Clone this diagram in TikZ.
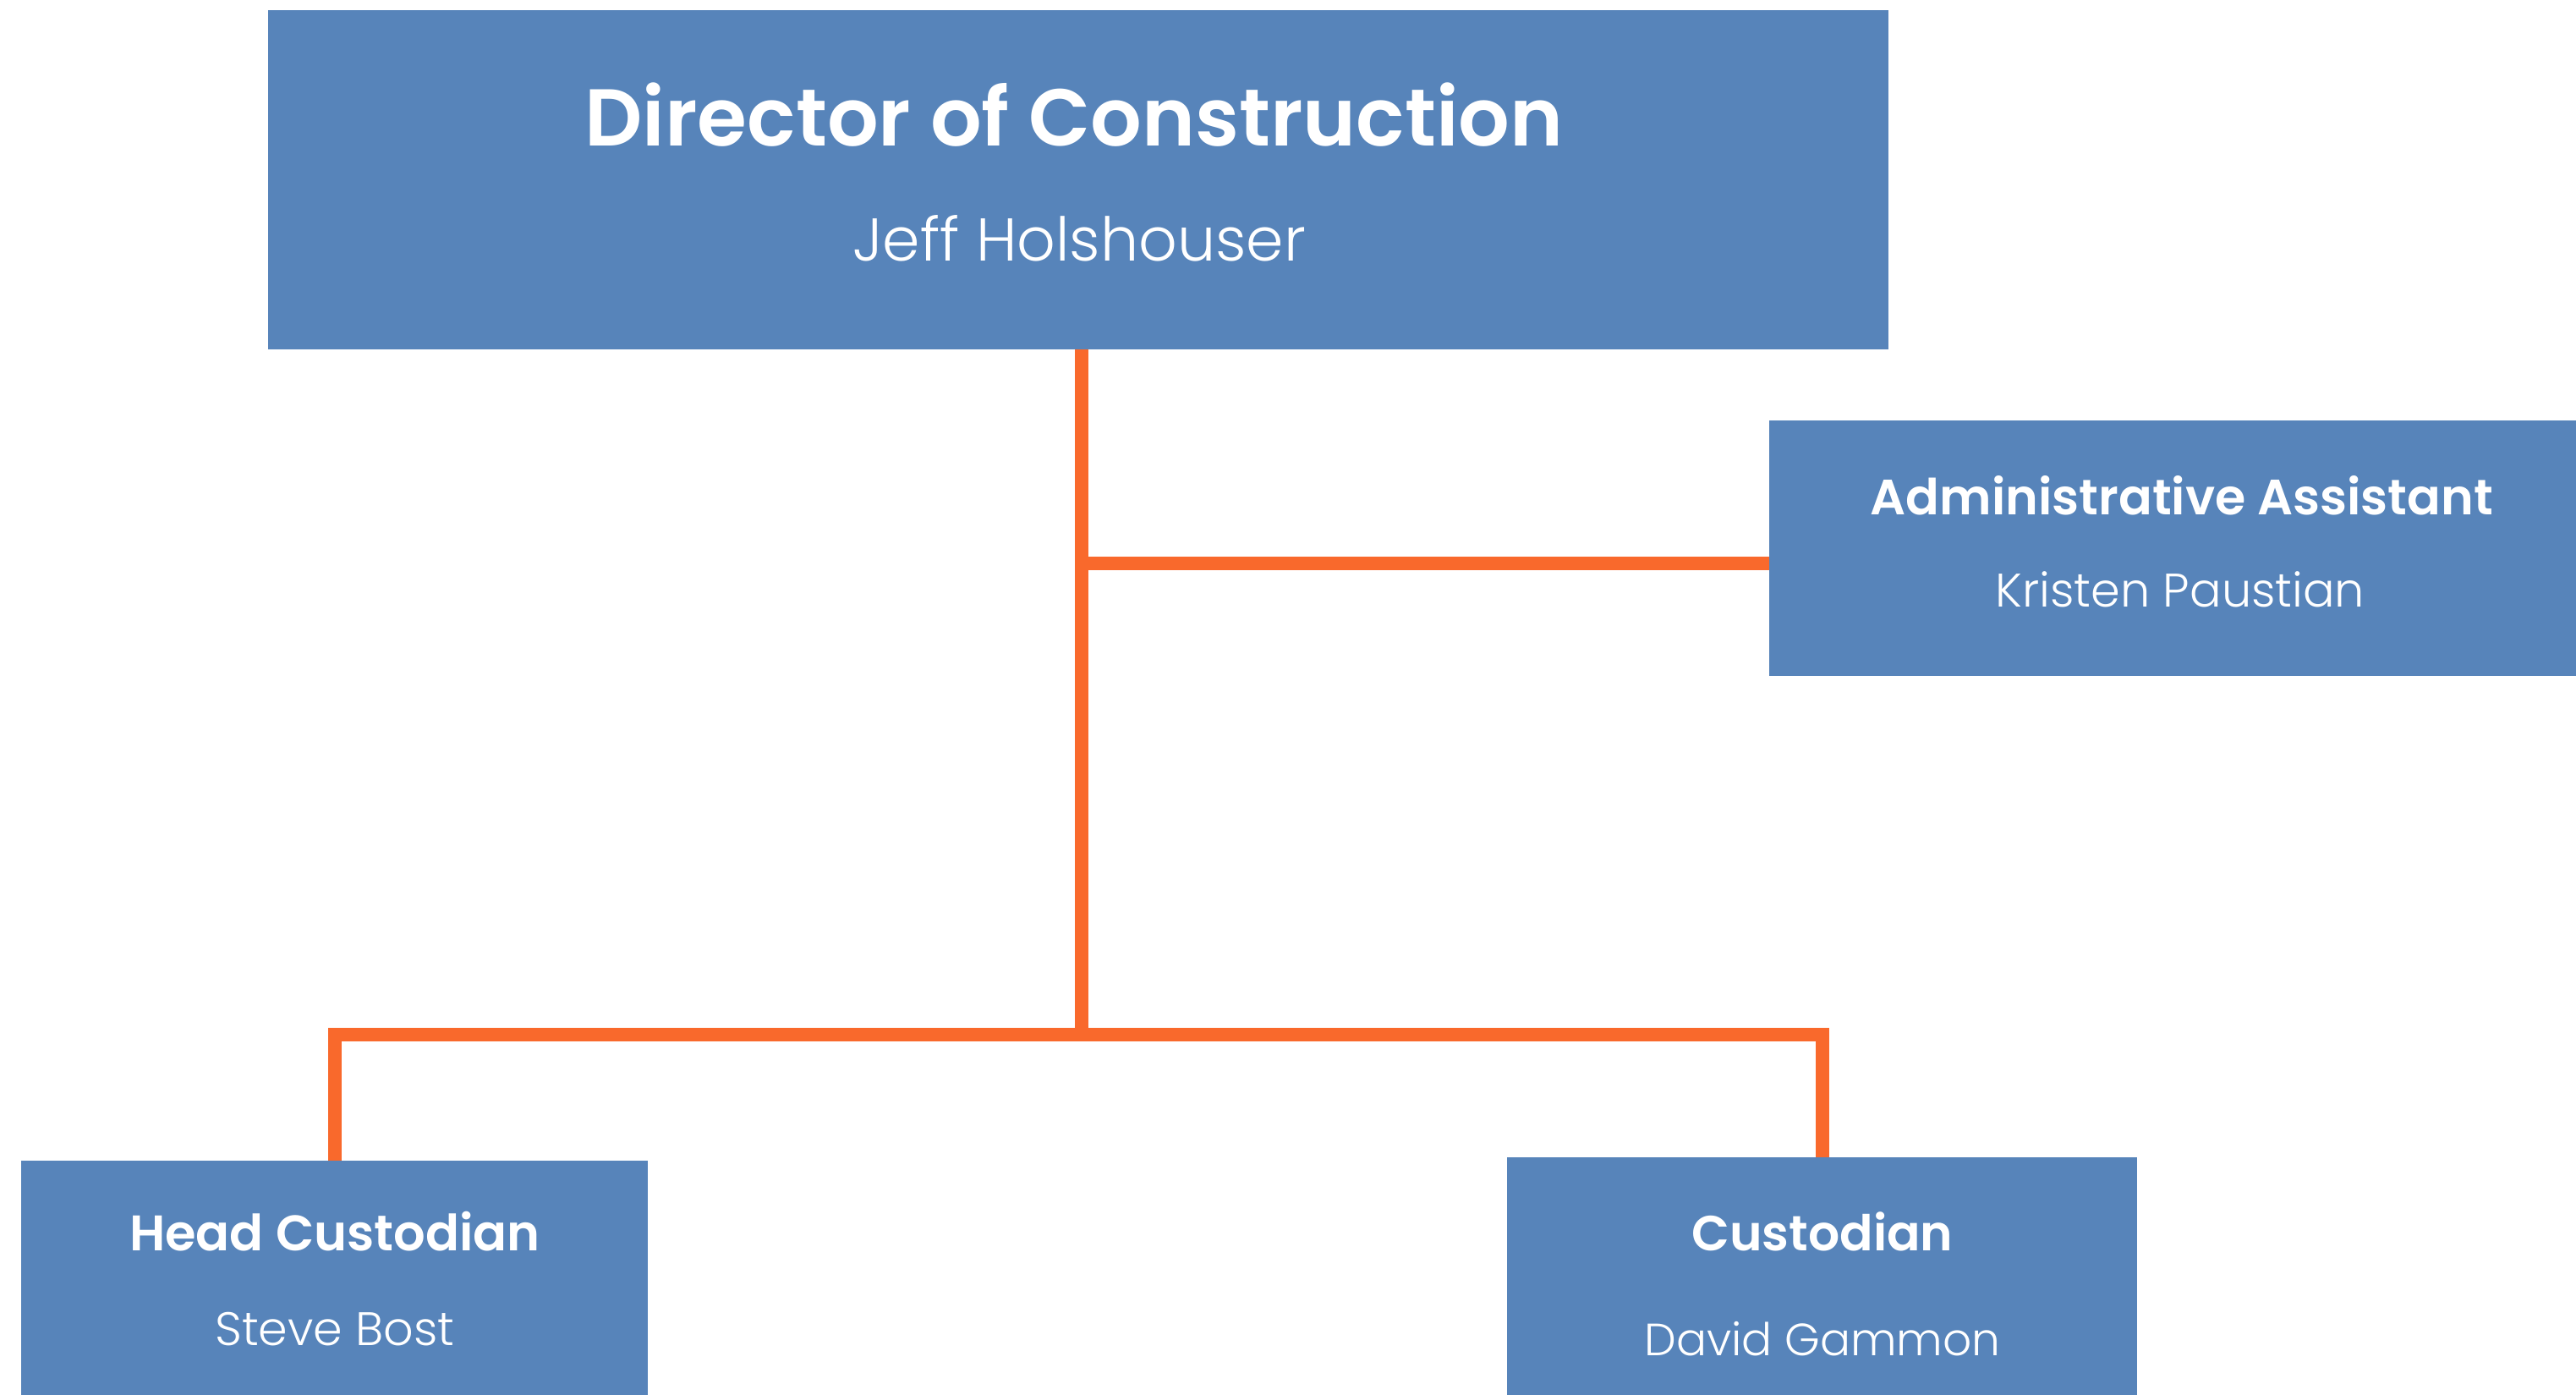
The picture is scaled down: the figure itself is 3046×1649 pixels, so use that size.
\documentclass[tikz,border=0pt]{standalone}
\usepackage{fontspec}
\setmainfont{Poppins}
\IfFontExistsTF{Poppins SemiBold}{\newfontfamily\ttlfont{Poppins SemiBold}}{\newfontfamily\ttlfont{Poppins}[UprightFont=*-Bold]}
\IfFontExistsTF{Poppins Light}{\newfontfamily\namefont{Poppins Light}}{\newfontfamily\namefont{Poppins}}
\definecolor{boxblue}{HTML}{5784BA}
\definecolor{lineorange}{HTML}{F9692C}
\tikzset{
  rolebox/.style={fill=boxblue, draw=none, anchor=north west, inner sep=0pt, outer sep=0pt},
  ttl/.style={text=white, anchor=base, inner sep=0pt, font=\ttlfont},
  nm/.style={text=white, anchor=base, inner sep=0pt, font=\namefont},
  conn/.style={draw=lineorange, line width=0.16cm, line join=miter}
}
\begin{document}
\begin{tikzpicture}[x=0.01cm,y=-0.01cm]
\useasboundingbox (0,0) rectangle (3046,1649);
% boxes
\node[rolebox, minimum width=19.15cm, minimum height=4.01cm] (dir) at (317,12) {};
\node[rolebox, minimum width=9.74cm, minimum height=3.02cm] (admin) at (2092,497) {};
\node[rolebox, minimum width=7.41cm, minimum height=3.4cm] (head) at (25,1372) {};
\node[rolebox, minimum width=7.45cm, minimum height=3.4cm] (cust) at (1782,1368) {};
% texts
\node[ttl, font=\ttlfont\fontsize{27.1}{31}\selectfont] (dirt) at (1270,173) {Director of Construction};
\node[nm, font=\namefont\fontsize{20.3}{24}\selectfont] (dirn) at (1276,309) {Jeff Holshouser};
\node[ttl, font=\ttlfont\fontsize{16.7}{20}\selectfont] (admt) at (2580,608) {Administrative Assistant};
\node[nm, font=\namefont\fontsize{15.85}{19}\selectfont] (admn) at (2578,717) {Kristen Paustian};
\node[ttl, font=\ttlfont\fontsize{16.8}{20}\selectfont] (headt) at (396,1478) {Head Custodian};
\node[nm, font=\namefont\fontsize{15.8}{19}\selectfont] (headn) at (396,1590) {Steve Bost};
\node[ttl, font=\ttlfont\fontsize{16.6}{20}\selectfont] (custt) at (2155,1478) {Custodian};
\node[nm, font=\namefont\fontsize{15.2}{19}\selectfont] (custn) at (2155,1602) {David Gammon};
% connectors
\coordinate (j1) at (1279,666);
\coordinate (j2) at (1279,1223);
\draw[conn] (dir.south -| j1) -- (j2);
\draw[conn] (j1) -- (admin.west |- j1);
\draw[conn] (head.north) |- (j2) -| (cust.north);
\end{tikzpicture}
\end{document}
